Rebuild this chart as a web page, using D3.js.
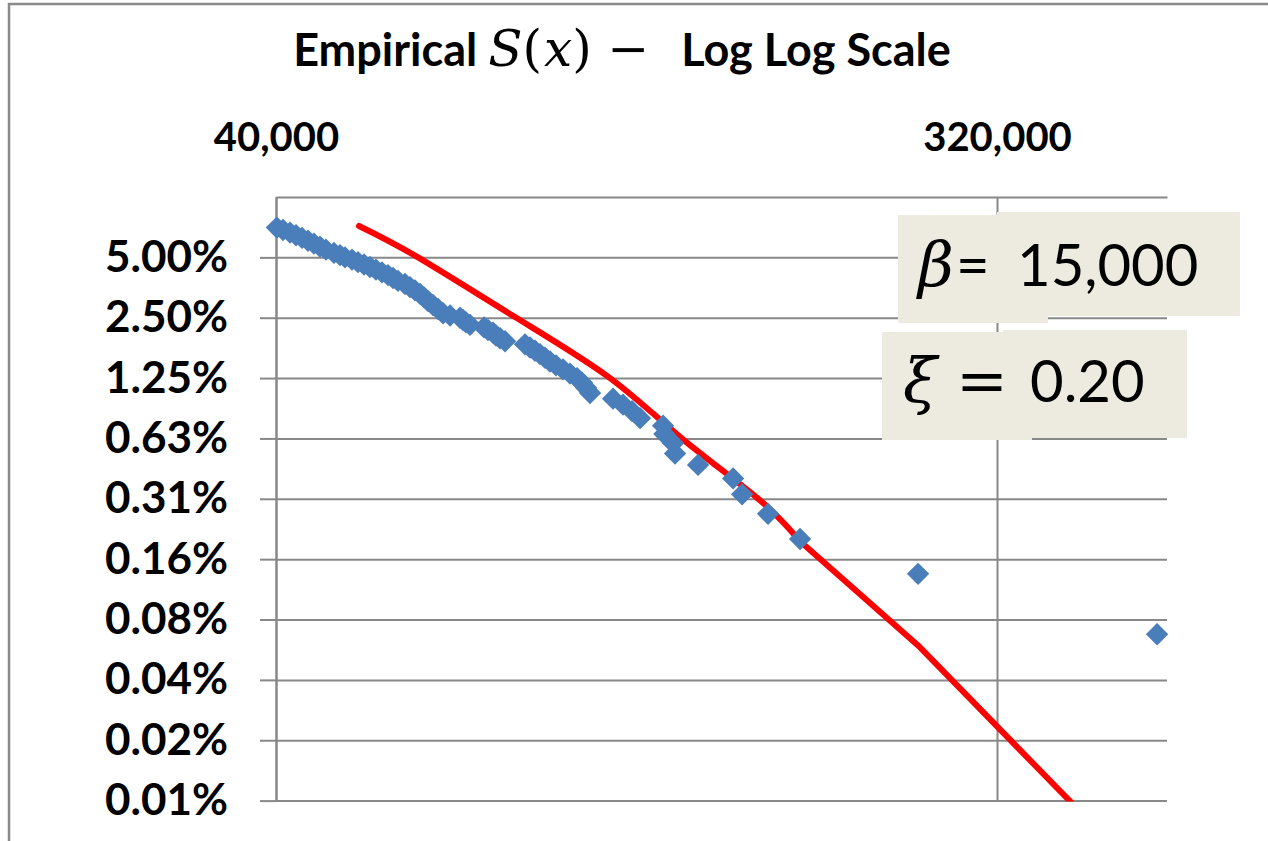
<!DOCTYPE html>
<html>
<head>
<meta charset="utf-8">
<script src="https://cdn.jsdelivr.net/npm/d3@7"></script>
<style>
  body { margin: 0; background: #fff; }
  svg { display: block; }
  text { white-space: pre; }
</style>
</head>
<body>
<div id="chart"></div>
<script>
// empirical points: loss size and S(x) in percent
const lossValues = [40100, 40820, 41650, 42380, 43120, 43870, 44630, 45410, 46200, 47280,
  48110, 48810, 49800, 50670, 51560, 52460, 53370, 54300, 55250, 56060,
  56870, 58030, 58870, 59730, 60600, 61300, 62010, 62910, 63830, 64760,
  66080, 68010, 68600, 69200, 70000, 72880, 73730, 74800, 75450, 76330,
  77440, 82030, 83220, 84430, 85660, 86900, 88160, 89700, 91530, 93400,
  95310, 96690, 97820, 98950, 105740, 108840, 111700, 114310, 122150, 122600,
  125720, 126440, 135120, 149490, 153420, 165340, 181340, 254850, 507760];
const survivalPct = [7.039, 6.842, 6.645, 6.447, 6.250, 6.053, 5.855, 5.658, 5.461, 5.263,
  5.132, 5.000, 4.868, 4.737, 4.605, 4.474, 4.342, 4.211, 4.079, 3.947,
  3.816, 3.684, 3.553, 3.421, 3.289, 3.158, 3.026, 2.895, 2.763, 2.632,
  2.566, 2.500, 2.434, 2.368, 2.303, 2.237, 2.171, 2.105, 2.039, 1.974,
  1.908, 1.842, 1.776, 1.711, 1.645, 1.579, 1.513, 1.447, 1.382, 1.316,
  1.250, 1.184, 1.118, 1.053, 0.987, 0.921, 0.855, 0.789, 0.724, 0.658,
  0.592, 0.526, 0.461, 0.395, 0.329, 0.263, 0.197, 0.132, 0.066];

// fitted curve (red line); dense up to 181,340 then only the last two losses
const fitLoss = [50820, 60250, 79700, 104820, 129020, 160650, 181340, 254850, 507760];
const fitSurvivalPct = [7.17, 5.00, 2.52, 1.25, 0.624, 0.313, 0.192, 0.0580, 0.00348];
const fitDenseCount = 7;

// axes
const xDomain = [40000, 522500];
const xTickValues = [40000, 320000];
const xTickLabels = ["40,000", "320,000"];
const yDomain = [0.009765625, 10];
const yTickValues = [5, 2.5, 1.25, 0.625, 0.3125, 0.15625, 0.078125, 0.0390625, 0.01953125, 0.009765625];
const yTickLabels = ["5.00%", "2.50%", "1.25%", "0.63%", "0.31%", "0.16%", "0.08%", "0.04%", "0.02%", "0.01%"];

const mathFont = '"DejaVu Serif", serif';

class SurvivalChart {
  constructor(_config) {
    this.config = {
      parentElement: _config.parentElement,
      containerWidth: 1268,
      containerHeight: 841,
      margin: { top: 197, right: 101, bottom: 40.4, left: 276 },
    };
    this.initVis();
  }

  initVis() {
    let vis = this;
    vis.width = vis.config.containerWidth - vis.config.margin.left - vis.config.margin.right;
    vis.height = vis.config.containerHeight - vis.config.margin.top - vis.config.margin.bottom;

    // both axes are log base 2
    vis.xScale = d3.scaleLog().base(2).domain(xDomain).range([0, vis.width]);
    vis.yScale = d3.scaleLog().base(2).domain(yDomain).range([vis.height, 0]);

    vis.svg = d3.select(vis.config.parentElement).append('svg')
        .attr('width', vis.config.containerWidth)
        .attr('height', vis.config.containerHeight);

    // chart area border (only top and left show in the frame)
    vis.svg.append('path')
        .attr('d', `M9,${vis.config.containerHeight + 5}V4H${vis.config.containerWidth + 5}`)
        .attr('fill', 'none')
        .attr('stroke', '#8a8a8a')
        .attr('stroke-width', 2.5);

    vis.svg.append('text')
        .attr('x', 622)
        .attr('y', 66)
        .attr('text-anchor', 'middle')
        .attr('font-size', 45)
        .attr('font-family', 'Lato, sans-serif')
        .attr('font-weight', 'bold')
        .call(t => {
          t.append('tspan').text('Empirical ');
          t.append('tspan').attr('font-family', mathFont).attr('font-weight', 'normal')
              .attr('font-size', 50).attr('font-style', 'italic').text('S');
          t.append('tspan').attr('font-family', mathFont).attr('font-weight', 'normal')
              .attr('font-size', 50).attr('letter-spacing', 2).text('(');
          t.append('tspan').attr('font-family', mathFont).attr('font-weight', 'normal')
              .attr('font-size', 50).attr('font-style', 'italic').text('x');
          t.append('tspan').attr('font-family', mathFont).attr('font-weight', 'normal')
              .attr('font-size', 50).text(') −  ');
          t.append('tspan').text('Log Log Scale');
        });

    vis.chartArea = vis.svg.append('g')
        .attr('transform', `translate(${vis.config.margin.left},${vis.config.margin.top})`);

    vis.svg.append('defs').append('clipPath').attr('id', 'plot-clip')
        .append('rect').attr('y', -5).attr('width', vis.width).attr('height', vis.height + 6);

    vis.updateVis();
  }

  updateVis() {
    let vis = this;
    vis.points = lossValues.map((d, i) => ({ loss: d, s: survivalPct[i] }));
    vis.fit = fitLoss.map((d, i) => ({ loss: d, s: fitSurvivalPct[i] }));
    vis.renderVis();
  }

  renderVis() {
    let vis = this;
    const gridColour = '#888888';

    // horizontal gridlines
    vis.chartArea.append('g')
        .call(d3.axisLeft(vis.yScale).tickValues(yTickValues).tickSize(-vis.width).tickFormat(''))
        .call(g => g.select('.domain').remove())
        .call(g => g.selectAll('line').attr('stroke', gridColour).attr('stroke-width', 2));

    // vertical gridlines
    vis.chartArea.append('g')
        .call(d3.axisTop(vis.xScale).tickValues(xTickValues).tickSize(-vis.height).tickFormat(''))
        .call(g => g.select('.domain').remove())
        .call(g => g.selectAll('line').attr('stroke', gridColour).attr('stroke-width', 2));

    // y axis with labels
    vis.chartArea.append('g')
        .call(d3.axisLeft(vis.yScale).tickValues(yTickValues)
            .tickFormat((d, i) => yTickLabels[i]).tickSizeInner(16).tickSizeOuter(0).tickPadding(32))
        .call(g => g.select('.domain').attr('stroke', gridColour).attr('stroke-width', 2))
        .call(g => g.selectAll('line').attr('stroke', gridColour).attr('stroke-width', 2))
        .call(g => g.selectAll('text')
            .attr('font-family', 'Lato, sans-serif').attr('font-weight', 'bold')
            .attr('font-size', 44).attr('fill', '#000'));

    // x axis sits on top
    vis.chartArea.append('g')
        .call(d3.axisTop(vis.xScale).tickValues(xTickValues)
            .tickFormat((d, i) => xTickLabels[i]).tickSize(0).tickPadding(46))
        .call(g => g.select('.domain').attr('stroke', gridColour).attr('stroke-width', 2))
        .call(g => g.selectAll('text')
            .attr('font-family', 'Lato, sans-serif').attr('font-weight', 'bold')
            .attr('font-size', 40).attr('fill', '#000'));

    // red fit: smooth where points are dense, straight segments after
    const smoothLine = d3.line().curve(d3.curveNatural)
        .x(d => vis.xScale(d.loss))
        .y(d => vis.yScale(d.s));
    const straightLine = d3.line()
        .x(d => vis.xScale(d.loss))
        .y(d => vis.yScale(d.s));

    const fitPath = smoothLine(vis.fit.slice(0, fitDenseCount)) +
        straightLine(vis.fit.slice(fitDenseCount - 1)).replace(/^M/, 'L');

    vis.chartArea.append('path')
        .attr('clip-path', 'url(#plot-clip)')
        .attr('d', fitPath)
        .attr('fill', 'none')
        .attr('stroke', '#ff0000')
        .attr('stroke-width', 6)
        .attr('stroke-linejoin', 'round')
        .attr('stroke-linecap', 'round');

    vis.chartArea.selectAll('.point')
        .data(vis.points)
        .join('path')
        .attr('class', 'point')
        .attr('d', d3.symbol().type(d3.symbolSquare).size(250))
        .attr('transform', d => `translate(${vis.xScale(d.loss)},${vis.yScale(d.s)}) rotate(45)`)
        .attr('fill', '#4a7ebb');

    // parameter boxes (each is two overlapping pieces)
    const boxFill = '#edeae0';
    const boxes = [[898, 215, 150, 108], [997, 212, 243, 104], [882, 332, 150, 108], [1003, 330, 184, 108]];
    vis.svg.selectAll('.param-box')
        .data(boxes)
        .join('rect')
        .attr('class', 'param-box')
        .attr('x', d => d[0]).attr('y', d => d[1])
        .attr('width', d => d[2]).attr('height', d => d[3])
        .attr('fill', boxFill);

    vis.svg.append('text')
        .attr('y', 286)
        .attr('font-family', 'Lato, sans-serif').attr('font-size', 58).attr('fill', '#000')
        .call(t => {
          t.append('tspan').attr('x', 918).attr('font-family', mathFont).attr('font-style', 'italic')
              .attr('font-size', 62).text('β');
          t.append('tspan').attr('x', 956).text('=');
          t.append('tspan').attr('x', 1017).text('15,000');
        });

    vis.svg.append('text')
        .attr('y', 402)
        .attr('font-family', 'Lato, sans-serif').attr('font-size', 58).attr('fill', '#000')
        .call(t => {
          t.append('tspan').attr('x', 903).attr('font-family', mathFont).attr('font-style', 'italic')
              .attr('font-size', 62).text('ξ');
          t.append('tspan').attr('x', 956).attr('font-family', mathFont).attr('font-size', 62).text('=');
          t.append('tspan').attr('x', 1030).text('0.20');
        });
  }
}

new SurvivalChart({ parentElement: '#chart' });
</script>
</body>
</html>
